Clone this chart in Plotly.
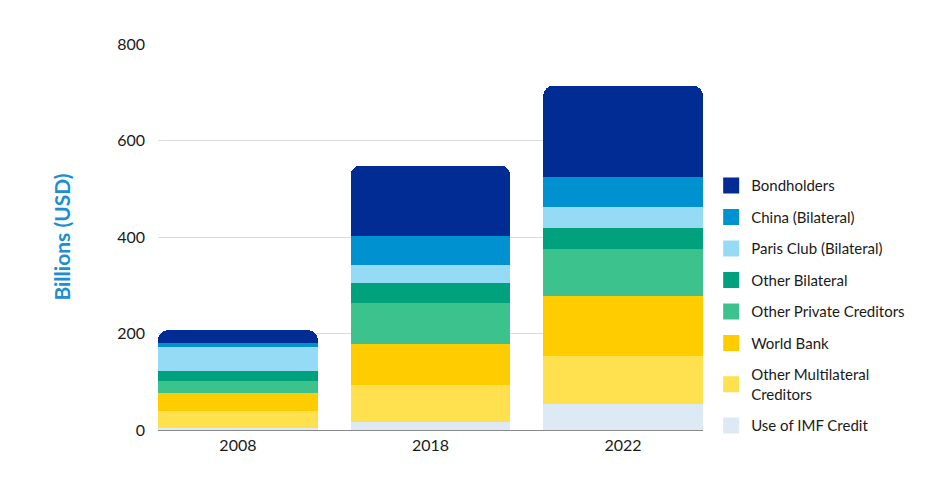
import plotly.graph_objects as go

years = ["2008", "2018", "2022"]
series_names = [
    "Use of IMF Credit",
    "Other Multilateral<br>Creditors",
    "World Bank",
    "Other Private Creditors",
    "Other Bilateral",
    "Paris Club (Bilateral)",
    "China (Bilateral)",
    "Bondholders",
]
imf_credit = [3.5, 17, 54.5]
other_multilateral = [36, 77, 99]
world_bank = [36.5, 85, 125]
other_private = [25.5, 84, 97]
other_bilateral = [20.5, 42, 44]
paris_club = [50.5, 38, 43]
china = [7, 60, 62]
bondholders = [27.5, 145, 189]
series_values = [imf_credit, other_multilateral, world_bank, other_private,
                 other_bilateral, paris_club, china, bondholders]
colors = ["#dde9f4", "#ffe04f", "#ffcc00", "#3cc38d", "#00a27d", "#96dbf5", "#0091d1", "#002c93"]
y_ticks = [0, 200, 400, 600, 800]

FONT = "Lato"
n = len(series_names)

fig = go.Figure()
for i, (name, vals, col) in enumerate(zip(series_names, series_values, colors)):
    fig.add_trace(go.Bar(
        x=years, y=vals, name=name, marker_color=col, marker_line_width=0,
        width=0.83, showlegend=False,
    ))
    # legend entry with a larger swatch
    fig.add_trace(go.Scatter(
        x=[None], y=[None], mode="markers", name=name,
        marker=dict(symbol="square", size=20, color=col, line_width=0),
        legendgroup=name, legendrank=n - i,
    ))

fig.update_layout(
    width=928, height=470,
    barmode="stack",
    barcornerradius=10,
    paper_bgcolor="white", plot_bgcolor="white",
    margin=dict(l=150, r=233, t=36, b=48),
    font=dict(family=FONT, size=15, color="#1a1a1a"),
    showlegend=True,
    legend=dict(
        traceorder="grouped", tracegroupgap=9, itemsizing="trace",
        x=1.015, xanchor="left", y=0.322, yanchor="middle",
        font=dict(family=FONT, size=15, color="#1a1a1a"),
        bgcolor="rgba(0,0,0,0)",
    ),
    xaxis=dict(
        range=[-0.415, 2.415], showgrid=False, showline=False, zeroline=False,
        tickfont=dict(family=FONT, size=16, color="#1a1a1a"),
        ticks="", ticklabelstandoff=4,
    ),
    yaxis=dict(
        range=[0, 800], tickvals=y_ticks, showgrid=True, gridcolor="#dcdcdc", gridwidth=1,
        zeroline=True, zerolinecolor="#8a8a8a", zerolinewidth=1,
        tickfont=dict(family=FONT, size=16, color="#1a1a1a"),
        ticklabelstandoff=12,
        title=dict(text="<b>Billions (USD)</b>", font=dict(family=FONT, size=21, color="#1b8fd3"), standoff=40),
    ),
)

fig.write_html("out.html")
